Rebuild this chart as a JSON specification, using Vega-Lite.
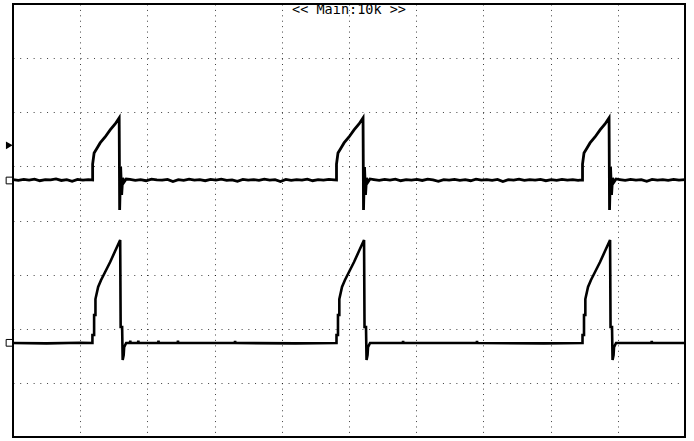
{
  "$schema": "https://vega.github.io/schema/vega-lite/v6.json",
  "width": 672,
  "height": 433,
  "autosize": {"type": "none"},
  "padding": {"left": 13, "top": 4, "right": 9, "bottom": 4},
  "background": "#ffffff",
  "config": {"view": {"stroke": "#000000", "strokeWidth": 2}},
  "datasets": {
    "trace": [
      {"ch": "CH1", "t": 0.00, "v": 0.755}, {"ch": "CH1", "t": 0.08, "v": 0.74}, {"ch": "CH1", "t": 0.16, "v": 0.76}, {"ch": "CH1", "t": 0.24, "v": 0.745},
      {"ch": "CH1", "t": 0.32, "v": 0.765}, {"ch": "CH1", "t": 0.40, "v": 0.735}, {"ch": "CH1", "t": 0.48, "v": 0.755}, {"ch": "CH1", "t": 0.56, "v": 0.75},
      {"ch": "CH1", "t": 0.64, "v": 0.77}, {"ch": "CH1", "t": 0.72, "v": 0.74}, {"ch": "CH1", "t": 0.80, "v": 0.755}, {"ch": "CH1", "t": 0.88, "v": 0.725},
      {"ch": "CH1", "t": 0.96, "v": 0.76}, {"ch": "CH1", "t": 1.04, "v": 0.745}, {"ch": "CH1", "t": 1.12, "v": 0.755}, {"ch": "CH1", "t": 1.17, "v": 0.75},
      {"ch": "CH1", "t": 1.185, "v": 0.749}, {"ch": "CH1", "t": 1.185, "v": 1.044}, {"ch": "CH1", "t": 1.207, "v": 1.248}, {"ch": "CH1", "t": 1.252, "v": 1.34},
      {"ch": "CH1", "t": 1.297, "v": 1.433}, {"ch": "CH1", "t": 1.371, "v": 1.543}, {"ch": "CH1", "t": 1.446, "v": 1.673}, {"ch": "CH1", "t": 1.52, "v": 1.784},
      {"ch": "CH1", "t": 1.58, "v": 1.895}, {"ch": "CH1", "t": 1.587, "v": 0.194}, {"ch": "CH1", "t": 1.602, "v": 0.989}, {"ch": "CH1", "t": 1.617, "v": 0.471},
      {"ch": "CH1", "t": 1.632, "v": 0.786}, {"ch": "CH1", "t": 1.654, "v": 0.712}, {"ch": "CH1", "t": 1.684, "v": 0.767},
      {"ch": "CH1", "t": 1.74, "v": 0.76}, {"ch": "CH1", "t": 1.82, "v": 0.74}, {"ch": "CH1", "t": 1.90, "v": 0.755}, {"ch": "CH1", "t": 1.98, "v": 0.735},
      {"ch": "CH1", "t": 2.06, "v": 0.765}, {"ch": "CH1", "t": 2.14, "v": 0.75}, {"ch": "CH1", "t": 2.22, "v": 0.745}, {"ch": "CH1", "t": 2.30, "v": 0.76},
      {"ch": "CH1", "t": 2.38, "v": 0.72}, {"ch": "CH1", "t": 2.46, "v": 0.755}, {"ch": "CH1", "t": 2.54, "v": 0.74}, {"ch": "CH1", "t": 2.62, "v": 0.765},
      {"ch": "CH1", "t": 2.70, "v": 0.745}, {"ch": "CH1", "t": 2.78, "v": 0.755}, {"ch": "CH1", "t": 2.86, "v": 0.735}, {"ch": "CH1", "t": 2.94, "v": 0.76},
      {"ch": "CH1", "t": 3.02, "v": 0.745}, {"ch": "CH1", "t": 3.10, "v": 0.765}, {"ch": "CH1", "t": 3.18, "v": 0.74}, {"ch": "CH1", "t": 3.26, "v": 0.75},
      {"ch": "CH1", "t": 3.34, "v": 0.725}, {"ch": "CH1", "t": 3.42, "v": 0.76}, {"ch": "CH1", "t": 3.50, "v": 0.745}, {"ch": "CH1", "t": 3.58, "v": 0.755},
      {"ch": "CH1", "t": 3.66, "v": 0.74}, {"ch": "CH1", "t": 3.74, "v": 0.765}, {"ch": "CH1", "t": 3.82, "v": 0.745}, {"ch": "CH1", "t": 3.90, "v": 0.755},
      {"ch": "CH1", "t": 3.98, "v": 0.72}, {"ch": "CH1", "t": 4.06, "v": 0.76}, {"ch": "CH1", "t": 4.14, "v": 0.74}, {"ch": "CH1", "t": 4.22, "v": 0.755},
      {"ch": "CH1", "t": 4.30, "v": 0.745}, {"ch": "CH1", "t": 4.38, "v": 0.765}, {"ch": "CH1", "t": 4.46, "v": 0.735}, {"ch": "CH1", "t": 4.54, "v": 0.755},
      {"ch": "CH1", "t": 4.62, "v": 0.745}, {"ch": "CH1", "t": 4.70, "v": 0.76}, {"ch": "CH1", "t": 4.78, "v": 0.75},
      {"ch": "CH1", "t": 4.814, "v": 0.749}, {"ch": "CH1", "t": 4.814, "v": 1.044}, {"ch": "CH1", "t": 4.836, "v": 1.248}, {"ch": "CH1", "t": 4.881, "v": 1.34},
      {"ch": "CH1", "t": 4.926, "v": 1.433}, {"ch": "CH1", "t": 5.0, "v": 1.543}, {"ch": "CH1", "t": 5.075, "v": 1.673}, {"ch": "CH1", "t": 5.149, "v": 1.784},
      {"ch": "CH1", "t": 5.209, "v": 1.895}, {"ch": "CH1", "t": 5.216, "v": 0.194}, {"ch": "CH1", "t": 5.231, "v": 0.989}, {"ch": "CH1", "t": 5.246, "v": 0.471},
      {"ch": "CH1", "t": 5.261, "v": 0.786}, {"ch": "CH1", "t": 5.283, "v": 0.712}, {"ch": "CH1", "t": 5.313, "v": 0.767},
      {"ch": "CH1", "t": 5.37, "v": 0.755}, {"ch": "CH1", "t": 5.45, "v": 0.74}, {"ch": "CH1", "t": 5.53, "v": 0.76}, {"ch": "CH1", "t": 5.61, "v": 0.745},
      {"ch": "CH1", "t": 5.69, "v": 0.765}, {"ch": "CH1", "t": 5.77, "v": 0.735}, {"ch": "CH1", "t": 5.85, "v": 0.755}, {"ch": "CH1", "t": 5.93, "v": 0.745},
      {"ch": "CH1", "t": 6.01, "v": 0.76}, {"ch": "CH1", "t": 6.09, "v": 0.74}, {"ch": "CH1", "t": 6.17, "v": 0.765}, {"ch": "CH1", "t": 6.25, "v": 0.75},
      {"ch": "CH1", "t": 6.33, "v": 0.725}, {"ch": "CH1", "t": 6.41, "v": 0.755}, {"ch": "CH1", "t": 6.49, "v": 0.745}, {"ch": "CH1", "t": 6.57, "v": 0.76},
      {"ch": "CH1", "t": 6.65, "v": 0.74}, {"ch": "CH1", "t": 6.73, "v": 0.755}, {"ch": "CH1", "t": 6.81, "v": 0.735}, {"ch": "CH1", "t": 6.89, "v": 0.765},
      {"ch": "CH1", "t": 6.97, "v": 0.745}, {"ch": "CH1", "t": 7.05, "v": 0.755}, {"ch": "CH1", "t": 7.13, "v": 0.74}, {"ch": "CH1", "t": 7.21, "v": 0.76},
      {"ch": "CH1", "t": 7.29, "v": 0.72}, {"ch": "CH1", "t": 7.37, "v": 0.755}, {"ch": "CH1", "t": 7.45, "v": 0.745}, {"ch": "CH1", "t": 7.53, "v": 0.765},
      {"ch": "CH1", "t": 7.61, "v": 0.74}, {"ch": "CH1", "t": 7.69, "v": 0.755}, {"ch": "CH1", "t": 7.77, "v": 0.745}, {"ch": "CH1", "t": 7.85, "v": 0.76},
      {"ch": "CH1", "t": 7.93, "v": 0.735}, {"ch": "CH1", "t": 8.01, "v": 0.755}, {"ch": "CH1", "t": 8.09, "v": 0.74}, {"ch": "CH1", "t": 8.17, "v": 0.76},
      {"ch": "CH1", "t": 8.25, "v": 0.745}, {"ch": "CH1", "t": 8.33, "v": 0.755}, {"ch": "CH1", "t": 8.41, "v": 0.74}, {"ch": "CH1", "t": 8.46, "v": 0.75},
      {"ch": "CH1", "t": 8.475, "v": 0.749}, {"ch": "CH1", "t": 8.475, "v": 1.044}, {"ch": "CH1", "t": 8.497, "v": 1.248}, {"ch": "CH1", "t": 8.542, "v": 1.34},
      {"ch": "CH1", "t": 8.587, "v": 1.433}, {"ch": "CH1", "t": 8.661, "v": 1.543}, {"ch": "CH1", "t": 8.736, "v": 1.673}, {"ch": "CH1", "t": 8.81, "v": 1.784},
      {"ch": "CH1", "t": 8.87, "v": 1.895}, {"ch": "CH1", "t": 8.877, "v": 0.194}, {"ch": "CH1", "t": 8.892, "v": 0.989}, {"ch": "CH1", "t": 8.907, "v": 0.471},
      {"ch": "CH1", "t": 8.922, "v": 0.786}, {"ch": "CH1", "t": 8.944, "v": 0.712}, {"ch": "CH1", "t": 8.974, "v": 0.767},
      {"ch": "CH1", "t": 9.03, "v": 0.755}, {"ch": "CH1", "t": 9.11, "v": 0.74}, {"ch": "CH1", "t": 9.19, "v": 0.76}, {"ch": "CH1", "t": 9.27, "v": 0.745},
      {"ch": "CH1", "t": 9.35, "v": 0.755}, {"ch": "CH1", "t": 9.43, "v": 0.725}, {"ch": "CH1", "t": 9.51, "v": 0.76}, {"ch": "CH1", "t": 9.59, "v": 0.745},
      {"ch": "CH1", "t": 9.67, "v": 0.755}, {"ch": "CH1", "t": 9.75, "v": 0.74}, {"ch": "CH1", "t": 9.83, "v": 0.76}, {"ch": "CH1", "t": 9.91, "v": 0.745},
      {"ch": "CH1", "t": 10.0, "v": 0.755},

      {"ch": "CH2", "t": 0.0, "v": -2.264}, {"ch": "CH2", "t": 0.5, "v": -2.27}, {"ch": "CH2", "t": 1.0, "v": -2.26}, {"ch": "CH2", "t": 1.182, "v": -2.264},
      {"ch": "CH2", "t": 1.182, "v": -2.116}, {"ch": "CH2", "t": 1.207, "v": -2.116}, {"ch": "CH2", "t": 1.207, "v": -1.747}, {"ch": "CH2", "t": 1.227, "v": -1.747},
      {"ch": "CH2", "t": 1.227, "v": -1.451}, {"ch": "CH2", "t": 1.267, "v": -1.229}, {"ch": "CH2", "t": 1.311, "v": -1.1}, {"ch": "CH2", "t": 1.371, "v": -0.952},
      {"ch": "CH2", "t": 1.446, "v": -0.767}, {"ch": "CH2", "t": 1.52, "v": -0.564}, {"ch": "CH2", "t": 1.595, "v": -0.36}, {"ch": "CH2", "t": 1.602, "v": -1.969},
      {"ch": "CH2", "t": 1.624, "v": -1.969}, {"ch": "CH2", "t": 1.632, "v": -2.579}, {"ch": "CH2", "t": 1.647, "v": -2.486}, {"ch": "CH2", "t": 1.654, "v": -2.338},
      {"ch": "CH2", "t": 1.684, "v": -2.264}, {"ch": "CH2", "t": 1.74, "v": -2.264}, {"ch": "CH2", "t": 1.745, "v": -2.22}, {"ch": "CH2", "t": 1.75, "v": -2.264},
      {"ch": "CH2", "t": 1.86, "v": -2.264}, {"ch": "CH2", "t": 1.865, "v": -2.22}, {"ch": "CH2", "t": 1.87, "v": -2.264}, {"ch": "CH2", "t": 2.16, "v": -2.264},
      {"ch": "CH2", "t": 2.165, "v": -2.22}, {"ch": "CH2", "t": 2.17, "v": -2.264}, {"ch": "CH2", "t": 2.45, "v": -2.264}, {"ch": "CH2", "t": 2.455, "v": -2.22},
      {"ch": "CH2", "t": 2.46, "v": -2.264}, {"ch": "CH2", "t": 3.3, "v": -2.26}, {"ch": "CH2", "t": 3.305, "v": -2.225}, {"ch": "CH2", "t": 3.31, "v": -2.264},
      {"ch": "CH2", "t": 4.2, "v": -2.27}, {"ch": "CH2", "t": 4.814, "v": -2.264},
      {"ch": "CH2", "t": 4.814, "v": -2.116}, {"ch": "CH2", "t": 4.836, "v": -2.116}, {"ch": "CH2", "t": 4.836, "v": -1.747}, {"ch": "CH2", "t": 4.856, "v": -1.747},
      {"ch": "CH2", "t": 4.856, "v": -1.451}, {"ch": "CH2", "t": 4.896, "v": -1.229}, {"ch": "CH2", "t": 4.94, "v": -1.1}, {"ch": "CH2", "t": 5.0, "v": -0.952},
      {"ch": "CH2", "t": 5.075, "v": -0.767}, {"ch": "CH2", "t": 5.149, "v": -0.564}, {"ch": "CH2", "t": 5.224, "v": -0.36}, {"ch": "CH2", "t": 5.231, "v": -1.969},
      {"ch": "CH2", "t": 5.253, "v": -1.969}, {"ch": "CH2", "t": 5.261, "v": -2.579}, {"ch": "CH2", "t": 5.276, "v": -2.486}, {"ch": "CH2", "t": 5.283, "v": -2.338},
      {"ch": "CH2", "t": 5.313, "v": -2.264}, {"ch": "CH2", "t": 5.8, "v": -2.264}, {"ch": "CH2", "t": 5.805, "v": -2.225}, {"ch": "CH2", "t": 5.81, "v": -2.264},
      {"ch": "CH2", "t": 6.9, "v": -2.26}, {"ch": "CH2", "t": 6.905, "v": -2.225}, {"ch": "CH2", "t": 6.91, "v": -2.264}, {"ch": "CH2", "t": 7.9, "v": -2.27},
      {"ch": "CH2", "t": 8.475, "v": -2.264},
      {"ch": "CH2", "t": 8.475, "v": -2.116}, {"ch": "CH2", "t": 8.497, "v": -2.116}, {"ch": "CH2", "t": 8.497, "v": -1.747}, {"ch": "CH2", "t": 8.517, "v": -1.747},
      {"ch": "CH2", "t": 8.517, "v": -1.451}, {"ch": "CH2", "t": 8.557, "v": -1.229}, {"ch": "CH2", "t": 8.601, "v": -1.1}, {"ch": "CH2", "t": 8.661, "v": -0.952},
      {"ch": "CH2", "t": 8.736, "v": -0.767}, {"ch": "CH2", "t": 8.81, "v": -0.564}, {"ch": "CH2", "t": 8.885, "v": -0.36}, {"ch": "CH2", "t": 8.892, "v": -1.969},
      {"ch": "CH2", "t": 8.914, "v": -1.969}, {"ch": "CH2", "t": 8.922, "v": -2.579}, {"ch": "CH2", "t": 8.937, "v": -2.486}, {"ch": "CH2", "t": 8.944, "v": -2.338},
      {"ch": "CH2", "t": 8.974, "v": -2.264}, {"ch": "CH2", "t": 9.5, "v": -2.264}, {"ch": "CH2", "t": 9.505, "v": -2.225}, {"ch": "CH2", "t": 9.51, "v": -2.264},
      {"ch": "CH2", "t": 10.0, "v": -2.264}
    ],
    "chmark": [
      {"t": -0.052, "v": 0.739},
      {"t": -0.052, "v": -2.26}
    ],
    "trig": [
      {"t": -0.055, "v": 1.39}
    ],
    "label": [
      {"t": 5.0, "v": 3.88, "txt": "<< Main:10k >>"}
    ]
  },
  "layer": [
    {
      "data": {"name": "trace"},
      "mark": {"type": "line", "color": "#000000", "strokeJoin": "miter", "interpolate": "linear"},
      "encoding": {
        "x": {
          "field": "t", "type": "quantitative",
          "scale": {"domain": [0, 10], "nice": false, "zero": false},
          "axis": {"title": null, "labels": false, "ticks": false, "domain": false, "grid": true,
                   "values": [1, 2, 3, 4, 5, 6, 7, 8, 9],
                   "gridDash": [1, 4.41], "gridColor": "#000000", "gridOpacity": 0.75, "gridWidth": 1}
        },
        "y": {
          "field": "v", "type": "quantitative",
          "scale": {"domain": [-4, 4], "nice": false, "zero": false},
          "axis": {"title": null, "labels": false, "ticks": false, "domain": false, "grid": true,
                   "values": [-3, -2, -1, 0, 1, 2, 3],
                   "gridDash": [1, 5.71], "gridColor": "#000000", "gridOpacity": 0.75, "gridWidth": 1}
        },
        "detail": {"field": "ch", "type": "nominal"},
        "strokeWidth": {"field": "ch", "type": "nominal", "scale": {"domain": ["CH1", "CH2"], "range": [2.8, 2.6]}, "legend": null},
        "order": {"value": null}
      }
    },
    {
      "data": {"name": "chmark"},
      "mark": {"type": "point", "shape": "square", "filled": false, "color": "#000000", "size": 45, "strokeWidth": 1, "opacity": 1},
      "encoding": {
        "x": {"field": "t", "type": "quantitative"},
        "y": {"field": "v", "type": "quantitative"}
      }
    },
    {
      "data": {"name": "trig"},
      "mark": {"type": "point", "shape": "triangle-right", "filled": true, "color": "#000000", "size": 60, "opacity": 1},
      "encoding": {
        "x": {"field": "t", "type": "quantitative"},
        "y": {"field": "v", "type": "quantitative"}
      }
    },
    {
      "data": {"name": "label"},
      "mark": {"type": "text", "font": "DejaVu Sans Mono", "fontSize": 13.5, "color": "#000000", "align": "center", "baseline": "middle"},
      "encoding": {
        "x": {"field": "t", "type": "quantitative"},
        "y": {"field": "v", "type": "quantitative"},
        "text": {"field": "txt", "type": "nominal"}
      }
    }
  ]
}
